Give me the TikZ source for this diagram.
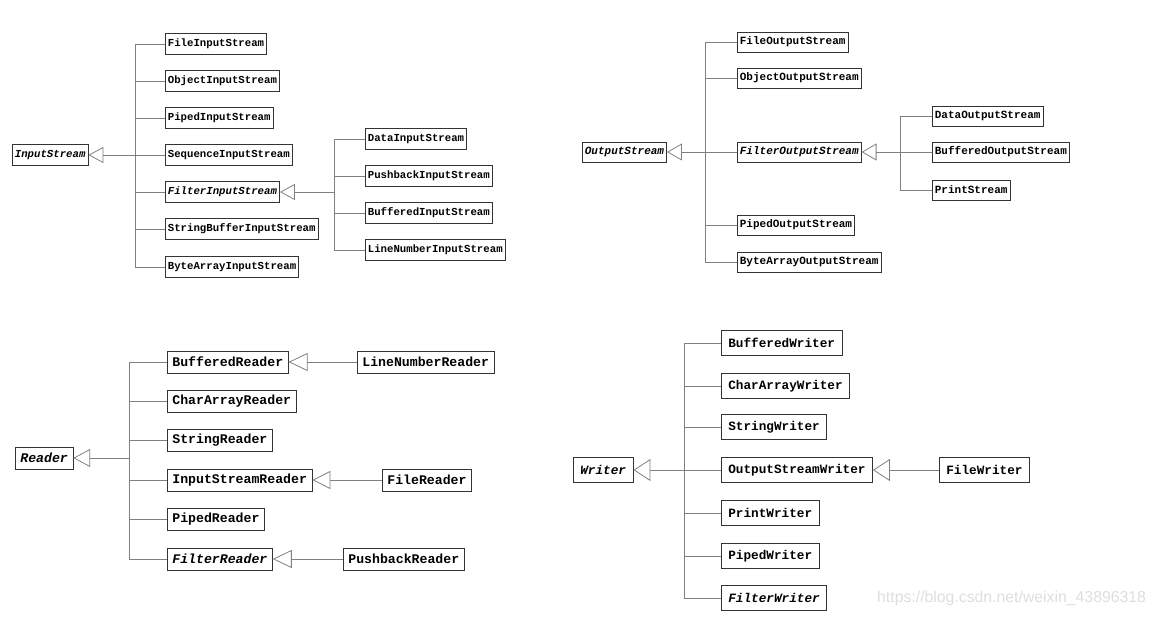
\documentclass[tikz,border=0pt]{standalone}
\usepackage{fontspec}
\setmonofont{Liberation Mono}
\setsansfont{Liberation Sans}
\usetikzlibrary{arrows.meta}

\newcommand\fuenteA{\ttfamily\bfseries\fontsize{10.7}{12}\selectfont}
\newcommand\fuenteB{\ttfamily\bfseries\fontsize{11}{12}\selectfont}
\newcommand\fuenteC{\ttfamily\bfseries\fontsize{13.2}{14}\selectfont}
\newcommand\fuenteD{\ttfamily\bfseries\fontsize{12.7}{14}\selectfont}

\begin{document}
\begin{tikzpicture}[x=1pt, y=-1pt,
    clase/.style={draw=black!80, line width=0.7pt, anchor=west, inner ysep=0pt},
    claseA/.style={clase, font=\fuenteA, inner xsep=2.5pt, minimum height=21pt},
    claseB/.style={clase, font=\fuenteB, inner xsep=2.5pt, minimum height=20pt},
    claseC/.style={clase, font=\fuenteC, inner xsep=5pt, minimum height=22pt},
    claseD/.style={clase, font=\fuenteD, inner xsep=7pt, minimum height=25pt},
    enlace/.style={draw=black!50, line width=0.8pt},
    herencia/.style n args={2}{enlace, -{Triangle[open, length=#1, width=#2]}}]
    \useasboundingbox (0,0) rectangle (1158,617);

    % Jerarquia de InputStream
    \node[claseA] (InputStream) at (12,155) {\textit{InputStream}};
    \node[claseA] (FileIS)   at (165,44)  {FileInputStream};
    \node[claseA] (ObjIS)    at (165,81)  {ObjectInputStream};
    \node[claseA] (PipedIS)  at (165,118) {PipedInputStream};
    \node[claseA] (SeqIS)    at (165,155) {SequenceInputStream};
    \node[claseA] (FiltIS)   at (165,192) {\textit{FilterInputStream}};
    \node[claseA] (SBufIS)   at (165,229) {StringBufferInputStream};
    \node[claseA] (BArrIS)   at (165,267) {ByteArrayInputStream};
    \node[claseA] (DataIS)   at (365,139) {DataInputStream};
    \node[claseA] (PushIS)   at (365,176) {PushbackInputStream};
    \node[claseA] (BufIS)    at (365,213) {BufferedInputStream};
    \node[claseA] (LineIS)   at (365,250) {LineNumberInputStream};
    \coordinate (tIn) at (135,155);
    \coordinate (tFiltIn) at (334,192);
    \foreach \hijo in {FileIS, ObjIS, PipedIS, SeqIS, FiltIS, SBufIS, BArrIS}
        \draw[enlace] (\hijo.west) -| (tIn);
    \foreach \hijo in {DataIS, PushIS, BufIS, LineIS}
        \draw[enlace] (\hijo.west) -| (tFiltIn);
    \draw[herencia={15pt}{16pt}] (tIn) -- (InputStream.east);
    \draw[herencia={15pt}{16pt}] (tFiltIn) -- (FiltIS.east);

    % Jerarquia de OutputStream
    \node[claseB] (OutputStream) at (582,152) {\textit{OutputStream}};
    \node[claseB] (FileOS)   at (737,42)  {FileOutputStream};
    \node[claseB] (ObjOS)    at (737,78)  {ObjectOutputStream};
    \node[claseB] (FiltOS)   at (737,152) {\textit{FilterOutputStream}};
    \node[claseB] (PipedOS)  at (737,225) {PipedOutputStream};
    \node[claseB] (BArrOS)   at (737,262) {ByteArrayOutputStream};
    \node[claseB] (DataOS)   at (932,116) {DataOutputStream};
    \node[claseB] (BufOS)    at (932,152) {BufferedOutputStream};
    \node[claseB] (PrintS)   at (932,190) {PrintStream};
    \coordinate (tOut) at (705,152);
    \coordinate (tFiltOut) at (900,152);
    \foreach \hijo in {FileOS, ObjOS, FiltOS, PipedOS, BArrOS}
        \draw[enlace] (\hijo.west) -| (tOut);
    \foreach \hijo in {DataOS, BufOS, PrintS}
        \draw[enlace] (\hijo.west) -| (tFiltOut);
    \draw[herencia={15pt}{17pt}] (tOut) -- (OutputStream.east);
    \draw[herencia={15pt}{17pt}] (tFiltOut) -- (FiltOS.east);

    % Jerarquia de Reader
    \node[claseC] (Reader) at (15,458) {\textit{Reader}};
    \node[claseC] (BufR)   at (167,362) {BufferedReader};
    \node[claseC] (CharR)  at (167,401) {CharArrayReader};
    \node[claseC] (StrR)   at (167,440) {StringReader};
    \node[claseC] (ISR)    at (167,480) {InputStreamReader};
    \node[claseC] (PipR)   at (167,519) {PipedReader};
    \node[claseC] (FiltR)  at (167,559) {\textit{FilterReader}};
    \node[claseC] (LineR)  at (357,362) {LineNumberReader};
    \node[claseC] (FileR)  at (382,480) {FileReader};
    \node[claseC] (PushR)  at (343,559) {PushbackReader};
    \coordinate (tRd) at (129,458);
    \foreach \hijo in {BufR, CharR, StrR, ISR, PipR, FiltR}
        \draw[enlace] (\hijo.west) -| (tRd);
    \draw[herencia={17pt}{18pt}] (tRd) -- (Reader.east);
    \draw[herencia={19pt}{18pt}] (LineR) -- (BufR);
    \draw[herencia={18pt}{18pt}] (FileR) -- (ISR);
    \draw[herencia={19pt}{18pt}] (PushR) -- (FiltR);

    % Jerarquia de Writer
    \node[claseD] (Writer) at (573,470) {\textit{Writer}};
    \node[claseD] (BufW)   at (721,343) {BufferedWriter};
    \node[claseD] (CharW)  at (721,386) {CharArrayWriter};
    \node[claseD] (StrW)   at (721,427) {StringWriter};
    \node[claseD] (OSW)    at (721,470) {OutputStreamWriter};
    \node[claseD] (PrintW) at (721,513) {PrintWriter};
    \node[claseD] (PipW)   at (721,556) {PipedWriter};
    \node[claseD] (FiltW)  at (721,598) {\textit{FilterWriter}};
    \node[claseD] (FileW)  at (939,470) {FileWriter};
    \coordinate (tWr) at (684,470);
    \foreach \hijo in {BufW, CharW, StrW, OSW, PrintW, PipW, FiltW}
        \draw[enlace] (\hijo.west) -| (tWr);
    \draw[herencia={17pt}{22pt}] (tWr) -- (Writer.east);
    \draw[herencia={17pt}{22pt}] (FileW) -- (OSW);

    % Marca de agua
    \node[anchor=west, inner sep=0pt, text=black!13, font=\sffamily\fontsize{15.8}{16}\selectfont] (marca) at (877,598) {https://blog.csdn.net/weixin\_43896318};
\end{tikzpicture}
\end{document}
